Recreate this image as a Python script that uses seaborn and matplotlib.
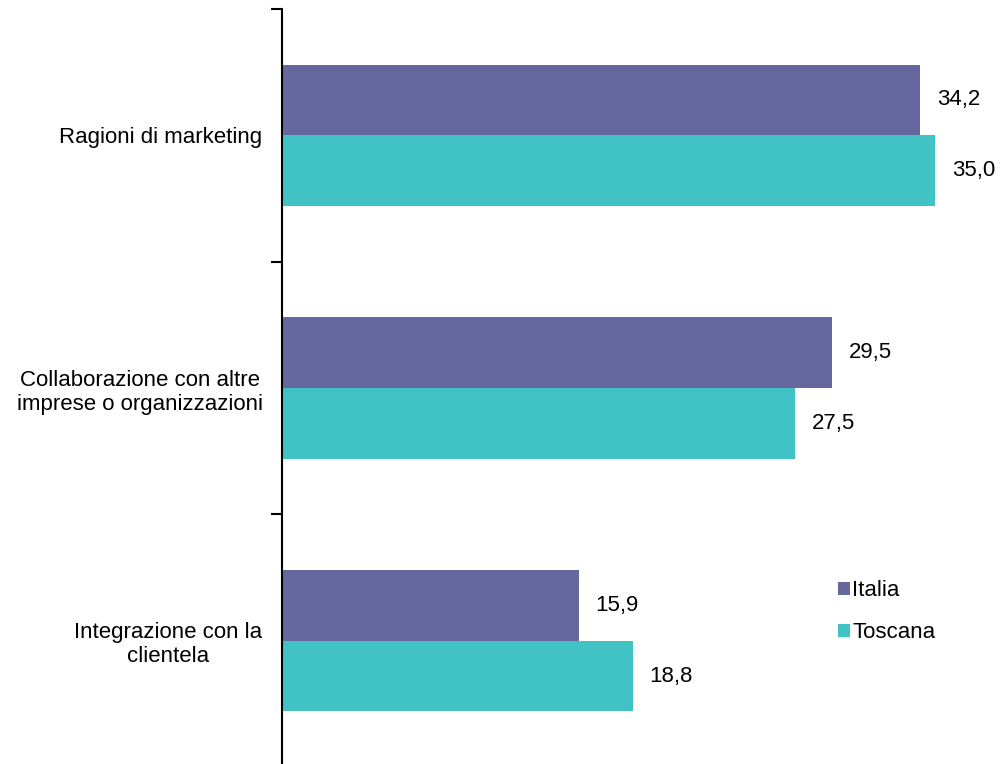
import pandas as pd
import matplotlib.pyplot as plt
import seaborn as sns

# Data
categories = [
    "Ragioni di marketing",
    "Collaborazione con altre\nimprese o organizzazioni",
    "Integrazione con la\nclientela",
]
italia = [34.2, 29.5, 15.9]
toscana = [35.0, 27.5, 18.8]
series = ["Italia", "Toscana"]
colors = ["#67679F", "#41C3C6"]

df = pd.DataFrame({
    "categoria": categories * 2,
    "valore": italia + toscana,
    "area": [series[0]] * 3 + [series[1]] * 3,
})

sns.set_style("white")
plt.rcParams["font.family"] = ["Liberation Sans", "DejaVu Sans"]
plt.rcParams["text.color"] = "black"
plt.rcParams["ytick.color"] = "black"
plt.rcParams["ytick.labelcolor"] = "black"

fig = plt.figure(figsize=(10, 7.64), dpi=100)
# axes runs a little past the bottom edge so the last tick is cut off
ax = fig.add_axes([0.282, -3 / 764, 0.718, (764 - 9 + 3) / 764])

sns.barplot(
    data=df, y="categoria", x="valore", hue="area", order=categories,
    hue_order=series, palette=colors, orient="h", width=0.56,
    saturation=1, linewidth=0, ax=ax, legend=True,
)

# value labels with decimal comma
for cont in ax.containers:
    labels = [f"{b.get_width():.1f}".replace(".", ",") for b in cont]
    ax.bar_label(cont, labels=labels, padding=12, fontsize=16, color="black")

ax.set_xlim(0, 38.48)
ax.set_ylim(2.5, -0.5)
ax.set_xlabel("")
ax.set_ylabel("")
ax.set_xticks([])

# tick marks between categories, labels at category centres
ax.set_yticks([-0.5, 0.5, 1.5, 2.5])
ax.set_yticklabels([])
ax.set_yticks([0, 1, 2], minor=True)
ax.set_yticklabels(categories, minor=True, fontsize=16, ha="right",
                   multialignment="center")
ax.tick_params(axis="y", which="major", length=8, width=1.5, color="black",
               direction="out", left=True)
ax.tick_params(axis="y", which="minor", length=0, pad=14)

for side in ["top", "right", "bottom"]:
    ax.spines[side].set_visible(False)
ax.spines["left"].set_linewidth(1.5)
ax.spines["left"].set_color("black")

leg = ax.legend(
    loc="upper left", bbox_to_anchor=(0.762, 0.258), frameon=False,
    fontsize=16, handlelength=0.55, handleheight=0.55, handletextpad=0.1,
    labelspacing=0.95, borderaxespad=0,
)

fig.savefig("out.png", dpi=100)
